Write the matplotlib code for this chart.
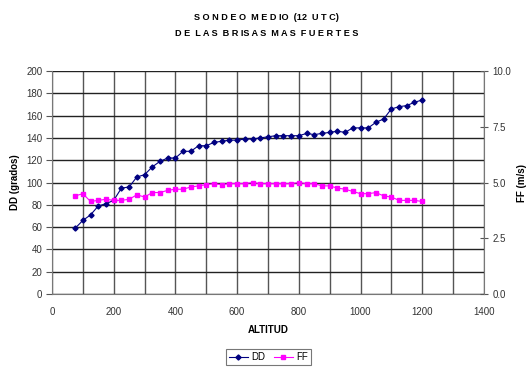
import numpy as np
import matplotlib.pyplot as plt
from matplotlib.ticker import MultipleLocator

plt.rcParams['font.family'] = ['Liberation Sans', 'DejaVu Sans']

altitud = list(range(75, 1201, 25))
dd = [59, 66, 71, 79, 81, 84, 95, 96, 105, 107, 114, 119, 122, 122, 128, 128,
      133, 133, 136, 137, 138, 138, 139, 139, 140, 141, 142, 142, 142, 142,
      144, 143, 144, 145, 146, 145, 149, 149, 149, 154, 157, 166, 168, 169,
      172, 174]
ff = [4.40, 4.50, 4.15, 4.20, 4.25, 4.20, 4.20, 4.25, 4.45, 4.35, 4.55, 4.55,
      4.65, 4.70, 4.70, 4.80, 4.85, 4.90, 4.95, 4.90, 4.95, 4.95, 4.95, 5.00,
      4.95, 4.95, 4.95, 4.95, 4.95, 5.00, 4.95, 4.95, 4.85, 4.85, 4.75, 4.70,
      4.60, 4.50, 4.50, 4.55, 4.40, 4.35, 4.20, 4.20, 4.20, 4.15]

fig = plt.figure(figsize=(5.28, 3.68), dpi=100)
ax = fig.add_axes([0.0985, 0.201, 0.818, 0.606])
ax2 = ax.twinx()

ax.set_xlim(0, 1400)
ax.set_ylim(0, 200)
ax2.set_ylim(0, 10)
ax.xaxis.set_major_locator(MultipleLocator(200))
ax.xaxis.set_minor_locator(MultipleLocator(100))
ax.yaxis.set_major_locator(MultipleLocator(20))
ax2.yaxis.set_major_locator(MultipleLocator(2.5))
ax2.yaxis.set_major_formatter(plt.FormatStrFormatter('%.1f'))

ax.grid(True, which='both', axis='x', color='#555555', lw=1.0)
ax.grid(True, which='major', axis='y', color='#222222', lw=1.0)
ax.set_axisbelow(True)

ax.spines['top'].set_visible(False)
ax2.spines['top'].set_visible(False)
ax.spines['right'].set_visible(False)
ax.spines['left'].set_color('#777777')
ax.spines['bottom'].set_color('#777777')
ax2.spines['right'].set_color('#777777')
ax2.spines['left'].set_visible(False)
ax2.spines['bottom'].set_visible(False)

ax.tick_params(axis='y', length=4, color='#555555', labelsize=7, labelcolor='#333333', pad=3)
ax.tick_params(axis='x', which='both', length=0, labelsize=7, labelcolor='#333333', pad=9)
ax2.tick_params(axis='y', direction='inout', length=6, color='#555555', labelsize=7,
                labelcolor='#333333', pad=3)

l1, = ax.plot(altitud, dd, color='#000080', lw=0.8, marker='D', ms=2.6, label='DD')
l2, = ax2.plot(altitud, ff, color='#ff00ff', lw=0.8, marker='s', ms=3.3, label='FF')

ax.set_xlabel('ALTITUD', fontsize=7, fontweight='bold', labelpad=6)
ax.set_ylabel('DD (grados)', fontsize=7, fontweight='bold', labelpad=4)
ax2.set_ylabel('FF (m/s)', fontsize=7, fontweight='bold', labelpad=4)

# two-line title, letter-spaced
fig.text(0.505, 1 - 17 / 368, 'S O N D E O  M E D IO  (12  U T C)',
         ha='center', va='center', fontsize=6.6, fontweight='bold')
fig.text(0.505, 1 - 33 / 368, 'D E  L A S  B R IS A S  M A S  F U E R T E S',
         ha='center', va='center', fontsize=6.6, fontweight='bold')

leg = fig.legend(handles=[l1, l2], loc='center', bbox_to_anchor=(0.508, 0.029),
                 ncol=2, fontsize=7, frameon=True, fancybox=False, edgecolor='#555555',
                 handlelength=2.0, handletextpad=0.3, columnspacing=0.9, borderpad=0.3)
leg.get_frame().set_linewidth(0.8)

fig.savefig('out.png', dpi=100)
